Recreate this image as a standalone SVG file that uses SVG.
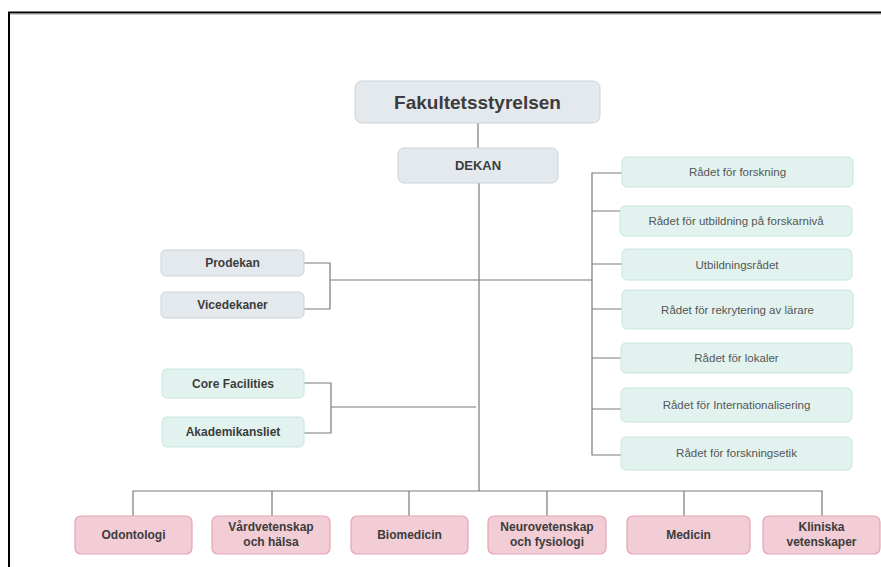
<svg xmlns="http://www.w3.org/2000/svg" width="881" height="567" viewBox="0 0 881 567">
<style>
.ln{stroke:#7a7a7a;stroke-width:1.2;fill:none}
.gray rect{fill:#e4e9ed;stroke:#ccd3d9;stroke-width:1}
.teal rect{fill:#e2f3ef;stroke:#c6e6df;stroke-width:1}
.pink rect{fill:#f2cdd6;stroke:#e5a3b4;stroke-width:1.2}
text{font-family:"Liberation Sans",Arial,Helvetica,sans-serif;text-anchor:middle}
.b{font-weight:bold;fill:#3c3c3c;font-size:12px}
.r{fill:#555;font-size:11.5px}
</style>
<rect x="0" y="0" width="881" height="567" fill="#ffffff"/>
<path d="M9 567 V12.5 H881" fill="none" stroke="#000" stroke-width="2"/>
<path d="M10 14 H881" stroke="#999" stroke-width="1"/>
<g id="connectors">
<path class="ln" d="M478 123 V148"/>
<path class="ln" d="M479 183 V491"/>
<path class="ln" d="M304 263 H330 V309 H304 M330 280 H592"/>
<path class="ln" d="M304 383 H331 V433 H304 M331 407 H476"/>
<path class="ln" d="M622 173 H592 V455 H621 M592 211 H620 M592 264 H622 M592 309 H622 M592 358 H621 M592 409 H621"/>
<path class="ln" d="M133 516 V491 H822 V516 M272 491 V516 M409 491 V516 M547 491 V516 M684 491 V516"/>
</g>
<g id="fakultetsstyrelsen" class="gray"><rect x="355" y="81" width="245" height="42" rx="7"/><text x="477.5" y="109" style="font-weight:bold;fill:#3c3c3c;font-size:19px">Fakultetsstyrelsen</text></g>
<g id="dekan" class="gray"><rect x="398" y="148" width="160" height="35" rx="6"/><text class="b" x="478" y="170" style="font-size:13px">DEKAN</text></g>
<g id="prodekan" class="gray"><rect x="161" y="250" width="143" height="26" rx="5"/><text class="b" x="232.5" y="267">Prodekan</text></g>
<g id="vicedekaner" class="gray"><rect x="161" y="292" width="143" height="26" rx="5"/><text class="b" x="232.5" y="309">Vicedekaner</text></g>
<g id="core" class="teal"><rect x="162" y="369" width="142" height="29" rx="5"/><text class="b" x="233" y="387.5">Core Facilities</text></g>
<g id="akademikansliet" class="teal"><rect x="162" y="417" width="142" height="30" rx="5"/><text class="b" x="233" y="436">Akademikansliet</text></g>
<g id="r1" class="teal"><rect x="622" y="157" width="231" height="30" rx="5"/><text class="r" x="737.5" y="176">Rådet för forskning</text></g>
<g id="r2" class="teal"><rect x="620" y="206" width="232" height="30" rx="5"/><text class="r" x="736" y="225">Rådet för utbildning på forskarnivå</text></g>
<g id="r3" class="teal"><rect x="622" y="249" width="230" height="31" rx="5"/><text class="r" x="737" y="269">Utbildningsrådet</text></g>
<g id="r4" class="teal"><rect x="622" y="290" width="231" height="39" rx="5"/><text class="r" x="737.5" y="314">Rådet för rekrytering av lärare</text></g>
<g id="r5" class="teal"><rect x="621" y="343" width="231" height="30" rx="5"/><text class="r" x="736.5" y="362">Rådet för lokaler</text></g>
<g id="r6" class="teal"><rect x="621" y="388" width="231" height="34" rx="5"/><text class="r" x="736.5" y="409">Rådet för Internationalisering</text></g>
<g id="r7" class="teal"><rect x="621" y="437" width="231" height="33" rx="5"/><text class="r" x="736.5" y="457">Rådet för forskningsetik</text></g>
<g id="odontologi" class="pink"><rect x="75" y="516" width="117" height="38" rx="6"/><text class="b" x="133.5" y="539">Odontologi</text></g>
<g id="vardvetenskap" class="pink"><rect x="212" y="516" width="118" height="38" rx="6"/><text class="b" x="271" y="531">Vårdvetenskap</text><text class="b" x="271" y="546">och hälsa</text></g>
<g id="biomedicin" class="pink"><rect x="351" y="516" width="117" height="38" rx="6"/><text class="b" x="409.5" y="539">Biomedicin</text></g>
<g id="neurovetenskap" class="pink"><rect x="488" y="516" width="118" height="38" rx="6"/><text class="b" x="547" y="531">Neurovetenskap</text><text class="b" x="547" y="546">och fysiologi</text></g>
<g id="medicin" class="pink"><rect x="627" y="516" width="123" height="38" rx="6"/><text class="b" x="688.5" y="539">Medicin</text></g>
<g id="kliniska" class="pink"><rect x="763" y="516" width="117" height="38" rx="6"/><text class="b" x="821.5" y="531">Kliniska</text><text class="b" x="821.5" y="546">vetenskaper</text></g>
</svg>
